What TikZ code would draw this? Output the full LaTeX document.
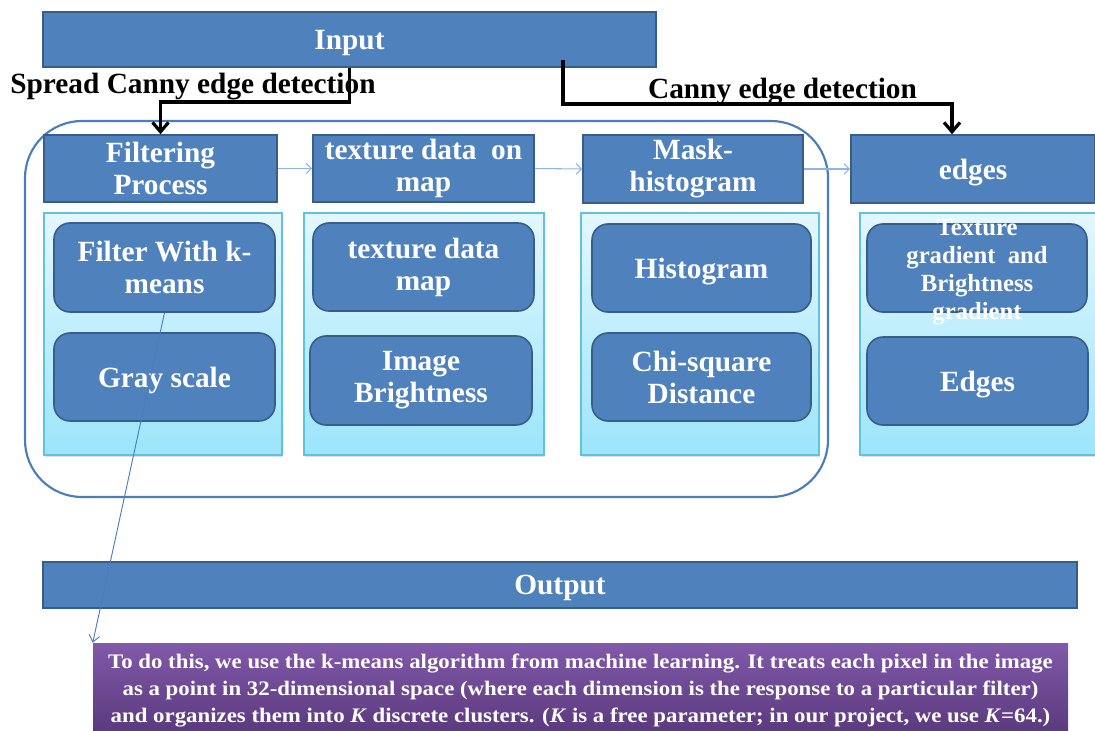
\documentclass[tikz,border=0pt]{standalone}
\usepackage{fontspec}
\setmainfont{Liberation Serif}
\usetikzlibrary{arrows.meta,calc,shadows}
\newdimen\pxu \pxu=0.75pt
\definecolor{hdrfill}{HTML}{4F81BD}
\definecolor{hdrdraw}{HTML}{385D8A}
\definecolor{panelline}{HTML}{5FC3DD}
\definecolor{paneltop}{HTML}{E3F7FD}
\definecolor{panelbot}{HTML}{9CE5FA}
\definecolor{bigline}{HTML}{4A7EBB}
\definecolor{thinline}{HTML}{8EB4E3}
\definecolor{purptop}{HTML}{8159A9}
\definecolor{purpbot}{HTML}{5B3A7E}
\tikzset{
  hdr/.style={draw=hdrdraw, line width=1.2pt, fill=hdrfill, text=white, align=center,
    font=\fontsize{22}{24}\selectfont\bfseries, inner sep=0pt},
  panel/.style={draw=panelline, line width=0.8pt, top color=paneltop, bottom color=panelbot,
    drop shadow={opacity=0.25, shadow xshift=1pt, shadow yshift=-1.2pt}},
  inbox/.style={draw=hdrdraw, line width=1.2pt, fill=hdrfill, rounded corners=16\pxu,
    text=white, align=center, font=\fontsize{22}{24}\selectfont\bfseries, inner sep=0pt},
  oneline/.style={text depth=0pt},
  bigarrow/.style={draw=black, line width=2.4pt, -{Straight Barb[length=7pt,width=12pt,line width=2.4pt]}},
  thinarrow/.style={draw=thinline, line width=0.8pt, -{Straight Barb[length=4pt,width=8pt]}},
  linkarrow/.style={draw=bigline, line width=0.7pt, -{Straight Barb[length=5pt,width=8pt]}},
  lbl/.style={font=\fontsize{22}{24}\selectfont\bfseries, text=black, inner sep=0pt, text depth=0pt}
}
\begin{document}
\begin{tikzpicture}[x=0.75pt,y=-0.75pt]
\useasboundingbox (0,0) rectangle (1095,731);
% big rounded group
\draw[bigline, line width=1.6pt, rounded corners=57\pxu] (25,121) rectangle (828,497);
% top input
\node[hdr, oneline, minimum width=613\pxu, minimum height=55\pxu] (input) at (349.5,39.5) {Input};
% labels
\node[lbl] (lspread) at (193,83) {Spread Canny edge detection};
\node[lbl] (lcanny) at (782.5,88) {Canny edge detection};
% headers
\node[hdr, minimum width=233\pxu, minimum height=67\pxu] (hdr1) at (160.5,168.5) {Filtering\\Process};
\node[hdr, minimum width=221\pxu, minimum height=67\pxu] (hdr2) at (423.5,168.5) {texture data\ \ on\\map};
\node[hdr, minimum width=220\pxu, minimum height=68\pxu] (hdr3) at (693,169) {Mask-\\histogram};
\node[hdr, oneline, minimum width=244\pxu, minimum height=68\pxu] (hdr4) at (973,169) {edges};
% panels
\node[panel, minimum width=238\pxu, minimum height=242\pxu] (p1) at (163,334) {};
\node[panel, minimum width=240\pxu, minimum height=242\pxu] (p2) at (424,334) {};
\node[panel, minimum width=238\pxu, minimum height=242\pxu] (p3) at (700,334) {};
\node[panel, minimum width=236\pxu, minimum height=242\pxu] (p4) at (978,334) {};
% inner boxes
\node[inbox, minimum width=221\pxu, minimum height=89\pxu] (b11) at (164.5,267.5) {Filter With k-\\means};
\node[inbox, oneline, minimum width=221\pxu, minimum height=88\pxu] (b12) at (164.5,377) {Gray scale};
\node[inbox, minimum width=221\pxu, minimum height=88\pxu] (b21) at (423.5,267) {texture data\\map};
\node[inbox, minimum width=222\pxu, minimum height=89\pxu] (b22) at (421,380.5) {Image\\Brightness};
\node[inbox, oneline, minimum width=219\pxu, minimum height=88\pxu] (b31) at (701.5,268) {Histogram};
\node[inbox, minimum width=219\pxu, minimum height=88\pxu] (b32) at (701.5,377) {Chi-square\\Distance};
\node[inbox, minimum width=220\pxu, minimum height=88\pxu] (b41) at (977,268) {};
\node[text=white, align=center, font=\fontsize{18.5}{21}\selectfont\bfseries, inner sep=0pt] (t41) at (977,272) {Texture\\gradient\ \ and\\Brightness\\gradient};
\node[inbox, oneline, minimum width=221\pxu, minimum height=88\pxu] (b42) at (977.5,381) {Edges};
% output
\node[hdr, oneline, minimum width=1034\pxu, minimum height=46\pxu] (output) at (560,585) {Output};
% purple note
\node[top color=purptop, bottom color=purpbot, minimum width=975\pxu, minimum height=88\pxu, inner sep=0pt] (note) at (580.5,687) {};
\begin{scope}[shift={(580.5,690)}, xscale=1.105]
\node[transform shape, text=white, align=center, font=\fontsize{15.5}{20.25}\selectfont\bfseries, inner sep=0pt] (notetext) at (0,0)
  {To do this, we use the k-means algorithm from machine learning. It treats each pixel in the image\\
   as a point in 32-dimensional space (where each dimension is the response to a particular filter)\\
   and organizes them into \textit{K} discrete clusters. (\textit{K} is a free parameter; in our project, we use \textit{K}=64.)};
\end{scope}
% connectors
\coordinate (c1) at (160.5,102);
\draw[bigarrow] (input.south) |- (c1) -- (hdr1.north);
\coordinate (s2) at (563,60);
\coordinate (c2) at (952,104);
\draw[bigarrow] (s2) |- (c2) -- (c2 |- hdr4.north);
\draw[thinarrow] (hdr1.east) -- (hdr2.west);
\draw[thinarrow] (hdr2.east) -- (hdr3.west);
\draw[thinarrow] (hdr3.east) -- (hdr4.west);
\draw[linkarrow] (b11.south) -- (note.north west);
\end{tikzpicture}
\end{document}
